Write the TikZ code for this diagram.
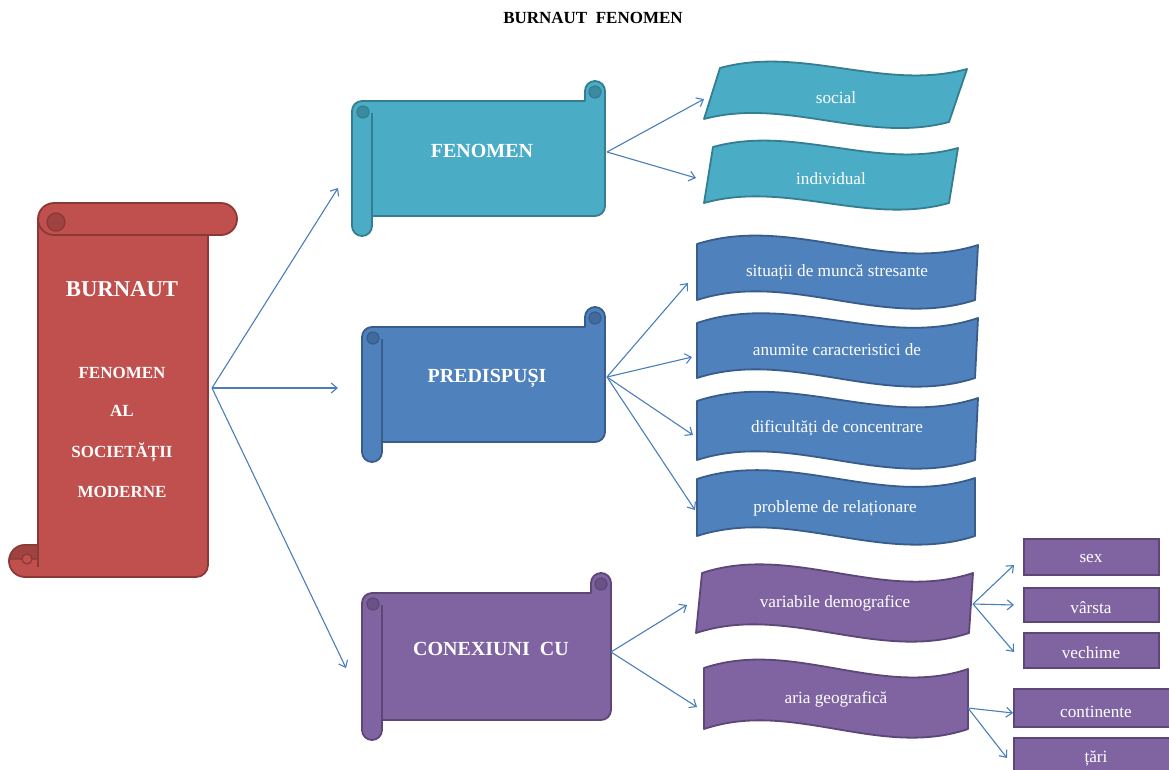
\documentclass[tikz,border=0pt]{standalone}
\usepackage{fontspec}
\setmainfont{Liberation Serif}
\usetikzlibrary{arrows.meta}
\definecolor{redF}{HTML}{C0504D}
\definecolor{redD}{HTML}{8C3836}
\definecolor{redK}{HTML}{9E4340}
\definecolor{tealF}{HTML}{4BACC6}
\definecolor{tealD}{HTML}{357D91}
\definecolor{tealK}{HTML}{3A8AA0}
\definecolor{blueF}{HTML}{4F81BD}
\definecolor{blueD}{HTML}{385D8A}
\definecolor{blueK}{HTML}{416B9C}
\definecolor{purF}{HTML}{8064A2}
\definecolor{purD}{HTML}{5C4776}
\definecolor{purK}{HTML}{6A5287}
\definecolor{arrowC}{HTML}{4A7EBB}
\tikzset{
  conn/.style={draw=arrowC, line width=1.1pt, -{Straight Barb[length=6pt,width=10pt]}},
  lbl/.style={text=white, inner sep=0pt, yshift=-1.5pt, font=\fontsize{17.2}{20}\selectfont},
  big/.style={text=white, inner sep=0pt, font=\fontsize{20}{24}\selectfont\bfseries},
  redtxt/.style={text=white, inner sep=0pt, font=\fontsize{17}{20}\selectfont\bfseries},
  tealW/.style={fill=tealF, draw=tealD, line width=1.8pt, line join=round},
  blueW/.style={fill=blueF, draw=blueD, line width=1.8pt, line join=round},
  purW/.style={fill=purF, draw=purD, line width=1.8pt, line join=round},
  purbox/.style={fill=purF, draw=purD, line width=2pt},
}
% horizontal scroll: l t r b fill line dark
\newcommand\hscroll[7]{%
  \filldraw[fill=#5,draw=#6,line width=1.8pt,line join=round]
    (#1,{-(#2+30)}) arc[start angle=180,end angle=90,radius=10]
    -- ({#3-20},{-(#2+20)}) -- ({#3-20},{-(#2+10)})
    arc[start angle=180,end angle=0,radius=10]
    -- (#3,{-(#4-30)}) arc[start angle=0,end angle=-90,radius=10]
    -- ({#1+20},{-(#4-20)}) -- ({#1+20},{-(#4-10)})
    arc[start angle=0,end angle=-180,radius=10] -- cycle;
  \filldraw[fill=#7,draw=#6,line width=1.2pt] ({#1+11},{-(#2+31)}) circle[radius=6];
  \filldraw[fill=#7,draw=#6,line width=1.2pt] ({#3-10},{-(#2+11)}) circle[radius=6];
  \draw[#6,line width=1.8pt] ({#1+20},{-(#2+32)}) -- ({#1+20},{-(#4-10)});
}
\def\wA{28}
% wave: TLx TLy TRx TRy BRx BRy BLx BLy style
\newcommand\wavebox[9]{%
  \filldraw[#9] (#1,-#2)
    .. controls ({(2*#1+#3)/3},{-(2*#2+#4)/3+\wA}) and ({(#1+2*#3)/3},{-(#2+2*#4)/3-\wA}) .. (#3,-#4)
    -- (#5,-#6)
    .. controls ({(2*#5+#7)/3},{-(2*#6+#8)/3-\wA}) and ({(#5+2*#7)/3},{-(#6+2*#8)/3+\wA}) .. (#7,-#8)
    -- cycle;
}
\begin{document}
\begin{tikzpicture}[x=1pt,y=1pt]
\useasboundingbox (0,0) rectangle (1169,-769);
\clip (0,0) rectangle (1169,-769);
\fill[white] (0,0) rectangle (1169,-769);

% title
\node[inner sep=0pt, font=\fontsize{17}{20}\selectfont\bfseries] (title) at (593,-18) {BURNAUT\ \ FENOMEN};

% ---- red vertical scroll ----
\filldraw[fill=redF,draw=redD,line width=1.8pt,line join=round]
  (38,-219) arc[start angle=180,end angle=90,radius=16]
  -- (221,-203) arc[start angle=90,end angle=-90,radius=16]
  -- (208,-235) -- (208,-565) arc[start angle=0,end angle=-90,radius=12]
  -- (25,-577) arc[start angle=-90,end angle=-270,radius=16]
  -- (38,-545) -- cycle;
\draw[redD,line width=1.8pt] (38,-219) arc[start angle=180,end angle=270,radius=16] -- (208,-235);
\filldraw[fill=redK,draw=redD,line width=1.2pt] (56,-222) circle[radius=9];
\filldraw[fill=redK,draw=redD,line width=1.2pt] (10,-559) arc[start angle=180,end angle=90,radius=14] -- (38,-545) -- (38,-559) -- cycle;
\filldraw[fill=redF,draw=redD,line width=1.2pt] (27,-559) circle[radius=5];
\draw[redD,line width=1.8pt] (38,-545) -- (38,-567);

\node[redtxt, font=\fontsize{22.7}{26}\selectfont\bfseries] (burnaut) at (122,-289) {BURNAUT};
\node[redtxt] (r1) at (122,-373) {FENOMEN};
\node[redtxt] (r2) at (122,-411) {AL};
\node[redtxt] (r3) at (122,-452) {SOCIETĂȚII};
\node[redtxt] (r4) at (122,-492) {MODERNE};

% ---- horizontal scrolls ----
\hscroll{352}{81}{605}{236}{tealF}{tealD}{tealK}
\node[big] (fen) at (482,-151) {FENOMEN};
\hscroll{362}{307}{605}{462}{blueF}{blueD}{blueK}
\node[big] (pred) at (487,-378) {PREDISPUȘI};
\hscroll{362}{573}{611}{740}{purF}{purD}{purK}
\node[big] (conex) at (491,-649) {CONEXIUNI\ \ CU};

% ---- waves ----
\def\wA{23}
\wavebox{720}{68}{967}{69}{949}{122}{704}{119}{tealW}
\wavebox{713}{147}{958}{148}{949}{203}{704}{203}{tealW}
\node[lbl] (social) at (836,-96) {social};
\node[lbl] (indiv) at (831,-177) {individual};
\def\wA{30}
\wavebox{697}{244}{978}{245}{975}{300}{697}{300}{blueW}
\wavebox{697}{323}{978}{318}{975}{378}{697}{378}{blueW}
\wavebox{697}{401}{978}{398}{975}{460}{697}{460}{blueW}
\wavebox{697}{479}{975}{478}{975}{536}{697}{536}{blueW}
\node[lbl] (p1) at (837,-271) {situații de muncă stresante};
\node[lbl] (p2) at (837,-348) {anumite caracteristici de};
\node[lbl] (p3) at (837,-427) {dificultăți de concentrare};
\node[lbl] (p4) at (835,-507) {probleme de relaționare};
\wavebox{702}{573}{973}{573}{969}{633}{696}{633}{purW}
\wavebox{704}{668}{968}{669}{968}{729}{704}{729}{purW}
\node[lbl] (var) at (835,-602) {variabile demografice};
\node[lbl] (aria) at (836,-698) {aria geografică};

% ---- boxes ----
\draw[purbox] (1024,-539) rectangle (1159,-575);
\draw[purbox] (1024,-588) rectangle (1159,-622);
\draw[purbox] (1024,-633) rectangle (1159,-668);
\draw[purbox] (1014,-689) rectangle (1180,-727);
\draw[purbox] (1014,-738) rectangle (1180,-790);
\node[lbl] (sex) at (1091,-557) {sex};
\node[lbl] (varsta) at (1091,-606) {vârsta};
\node[lbl] (vech) at (1091,-651) {vechime};
\node[lbl] (cont) at (1096,-710) {continente};
\node[lbl] (tari) at (1096,-757) {țări};

% ---- connector end points ----
\coordinate (oRed) at (212,-388);
\coordinate (iFen) at (338,-188);
\coordinate (iPred) at (338,-388);
\coordinate (iCon) at (346,-668);
\coordinate (oFen) at (607,-152);
\coordinate (iSoc) at (704,-99);
\coordinate (iInd) at (696,-178);
\coordinate (oPred) at (607,-377);
\coordinate (iP1) at (688,-283);
\coordinate (iP2) at (692,-357);
\coordinate (iP3) at (693,-435);
\coordinate (iP4) at (695,-510);
\coordinate (oCon) at (611,-652);
\coordinate (iVar) at (687,-605);
\coordinate (iAria) at (697,-707);
\coordinate (oVar) at (973,-604);
\coordinate (iSex) at (1014,-565);
\coordinate (iVarsta) at (1014,-605);
\coordinate (iVech) at (1014,-652);
\coordinate (oAria) at (968,-708);
\coordinate (iCont) at (1013,-713);
\coordinate (iTari) at (1007,-758);

\draw[conn] (oRed) -- (iFen);
\draw[conn] (oRed) -- (iPred);
\draw[conn] (oRed) -- (iCon);
\draw[conn] (oFen) -- (iSoc);
\draw[conn] (oFen) -- (iInd);
\draw[conn] (oPred) -- (iP1);
\draw[conn] (oPred) -- (iP2);
\draw[conn] (oPred) -- (iP3);
\draw[conn] (oPred) -- (iP4);
\draw[conn] (oCon) -- (iVar);
\draw[conn] (oCon) -- (iAria);
\draw[conn] (oVar) -- (iSex);
\draw[conn] (oVar) -- (iVarsta);
\draw[conn] (oVar) -- (iVech);
\draw[conn] (oAria) -- (iCont);
\draw[conn] (oAria) -- (iTari);
\end{tikzpicture}
\end{document}
